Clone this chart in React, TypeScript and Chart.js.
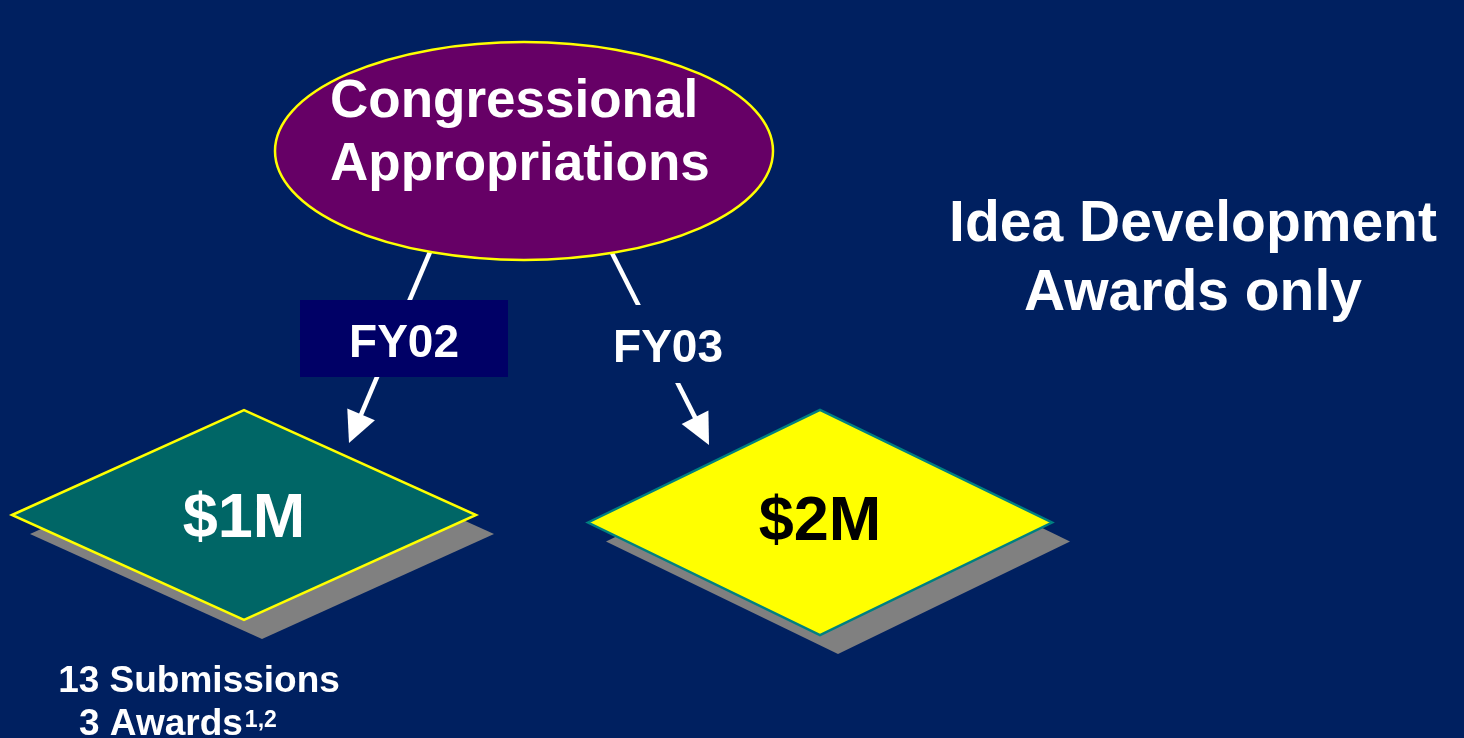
import React, { useEffect, useRef } from "react";
import { Chart, registerables } from "chart.js";

Chart.register(...registerables);

// ---- content ----
const BG = "#002060";
const FONT = "'Liberation Sans', Arial, Helvetica, sans-serif";

const rootLines = ["Congressional", "Appropriations"];
const rootCenter = [524, 151];
const rootRadii = [249, 109];
const rootTextX = 330;
const rootTextBaselines = [117, 180];

const yearLabels = ["FY02", "FY03"];
const yearBoxX = [300, 604];
const yearBoxY = [300, 305];
const yearBoxW = [208, 128];
const yearBoxH = [77, 78];
const yearBoxFill = ["#000066", BG];
const yearTextX = [404, 668];
const yearTextBaseline = [357, 362];

const arrowStartX = [430, 612];
const arrowStartY = [252, 253];
const arrowTipX = [349, 709];
const arrowTipY = [443, 445];

const amountLabels = ["$1M", "$2M"];
const amountValues = [1, 2];
const diamondCX = [244, 820];
const diamondCY = [515, 522.5];
const diamondHW = [232, 232];
const diamondHH = [105, 112.5];
const diamondFill = ["#006666", "#FFFF00"];
const diamondStroke = ["#FFFF00", "#008080"];
const amountColor = ["#FFFFFF", "#000000"];
const amountBaseline = [537, 540];
const shadowOffset = [18, 19];

const submissionsLine = "13 Submissions";
const awardsLine = "3 Awards";
const awardsSup = "1,2";
const noteLines = ["Idea Development", "Awards only"];
const noteCenterX = 1193;
const noteBaselines = [241, 310];

const diagramPlugin = {
  id: "diagram",
  beforeDraw(chart: any) {
    const ctx = chart.ctx;
    ctx.save();
    ctx.fillStyle = BG;
    ctx.fillRect(0, 0, chart.width, chart.height);
    ctx.restore();
  },
  afterDatasetsDraw(chart: any) {
    const ctx: CanvasRenderingContext2D = chart.ctx;
    const xs = chart.scales.x;
    const ys = chart.scales.y;
    const px = (v: number) => xs.getPixelForValue(v);
    const py = (v: number) => ys.getPixelForValue(v);
    const dx = (v: number) => px(v) - px(0);
    const dy = (v: number) => py(v) - py(0);

    ctx.save();
    // arrows
    for (let i = 0; i < arrowStartX.length; i++) {
      const sx = px(arrowStartX[i]);
      const sy = py(arrowStartY[i]);
      const tx = px(arrowTipX[i]);
      const ty = py(arrowTipY[i]);
      const ang = Math.atan2(ty - sy, tx - sx);
      const headLen = 31;
      const headHalf = 15;
      const bx = tx - headLen * Math.cos(ang);
      const by = ty - headLen * Math.sin(ang);
      ctx.strokeStyle = "#FFFFFF";
      ctx.lineWidth = 4.5;
      ctx.lineCap = "butt";
      ctx.beginPath();
      ctx.moveTo(sx, sy);
      ctx.lineTo(bx + Math.cos(ang) * 2, by + Math.sin(ang) * 2);
      ctx.stroke();
      ctx.fillStyle = "#FFFFFF";
      ctx.beginPath();
      ctx.moveTo(tx, ty);
      ctx.lineTo(bx - headHalf * Math.sin(ang), by + headHalf * Math.cos(ang));
      ctx.lineTo(bx + headHalf * Math.sin(ang), by - headHalf * Math.cos(ang));
      ctx.closePath();
      ctx.fill();
    }

    // year boxes and labels
    for (let i = 0; i < yearLabels.length; i++) {
      ctx.fillStyle = yearBoxFill[i];
      ctx.fillRect(px(yearBoxX[i]), py(yearBoxY[i]), dx(yearBoxW[i]), dy(yearBoxH[i]));
      ctx.fillStyle = "#FFFFFF";
      ctx.font = `bold 46px ${FONT}`;
      ctx.textAlign = "center";
      ctx.textBaseline = "alphabetic";
      ctx.fillText(yearLabels[i], px(yearTextX[i]), py(yearTextBaseline[i]));
    }

    // diamonds
    const [ox, oy] = shadowOffset;
    for (let i = 0; i < amountLabels.length; i++) {
      const cx = px(diamondCX[i]);
      const cy = py(diamondCY[i]);
      const hw = dx(diamondHW[i]);
      const hh = dy(diamondHH[i]);
      const path = (ax: number, ay: number) => {
        ctx.beginPath();
        ctx.moveTo(ax - hw, ay);
        ctx.lineTo(ax, ay - hh);
        ctx.lineTo(ax + hw, ay);
        ctx.lineTo(ax, ay + hh);
        ctx.closePath();
      };
      ctx.fillStyle = "#808080";
      path(cx + ox, cy + oy);
      ctx.fill();
      ctx.fillStyle = diamondFill[i];
      path(cx, cy);
      ctx.fill();
      ctx.strokeStyle = diamondStroke[i];
      ctx.lineWidth = 2.5;
      ctx.lineJoin = "miter";
      ctx.stroke();
      ctx.fillStyle = amountColor[i];
      ctx.font = `bold 63px ${FONT}`;
      ctx.textAlign = "center";
      ctx.fillText(amountLabels[i], cx, py(amountBaseline[i]));
    }

    // root ellipse
    ctx.beginPath();
    ctx.ellipse(px(rootCenter[0]), py(rootCenter[1]), dx(rootRadii[0]), dy(rootRadii[1]), 0, 0, Math.PI * 2);
    ctx.fillStyle = "#660066";
    ctx.fill();
    ctx.strokeStyle = "#FFFF00";
    ctx.lineWidth = 2.5;
    ctx.stroke();
    ctx.fillStyle = "#FFFFFF";
    ctx.font = `bold 53px ${FONT}`;
    ctx.textAlign = "left";
    rootLines.forEach((t, i) => ctx.fillText(t, px(rootTextX), py(rootTextBaselines[i])));

    // note
    ctx.font = `bold 57px ${FONT}`;
    ctx.textAlign = "center";
    noteLines.forEach((t, i) => ctx.fillText(t, px(noteCenterX), py(noteBaselines[i])));

    // submissions / awards
    ctx.font = `bold 37px ${FONT}`;
    ctx.textAlign = "center";
    ctx.fillText(submissionsLine, px(199), py(692));
    ctx.textAlign = "left";
    ctx.fillText(awardsLine, px(79), py(735));
    const w = ctx.measureText(awardsLine).width;
    ctx.font = `bold 23px ${FONT}`;
    ctx.fillText(awardsSup, px(79) + w + 2, py(727));
    ctx.restore();
  },
};

export default function App() {
  const ref = useRef<HTMLCanvasElement>(null);
  useEffect(() => {
    document.body.style.margin = "0";
    const canvas = ref.current!;
    const chart = new Chart(canvas, {
      type: "scatter",
      data: {
        datasets: [
          {
            label: "Appropriation ($M)",
            data: diamondCX.map((x, i) => ({ x, y: diamondCY[i], v: amountValues[i] })) as any,
            pointRadius: 0,
            pointHoverRadius: 0,
          },
        ],
      },
      options: {
        animation: false,
        responsive: false,
        devicePixelRatio: 1,
        layout: { padding: 0 },
        events: [],
        plugins: { legend: { display: false }, tooltip: { enabled: false }, title: { display: false } },
        scales: {
          x: { type: "linear", min: 0, max: 1464, display: false },
          y: { type: "linear", min: 0, max: 738, reverse: true, display: false },
        },
      },
      plugins: [diagramPlugin],
    });
    return () => chart.destroy();
  }, []);
  return (
    <div style={{ position: "fixed", left: 0, top: 0, width: 1464, height: 738, background: BG }}>
      <canvas ref={ref} width={1464} height={738} style={{ display: "block", width: 1464, height: 738 }} />
    </div>
  );
}
